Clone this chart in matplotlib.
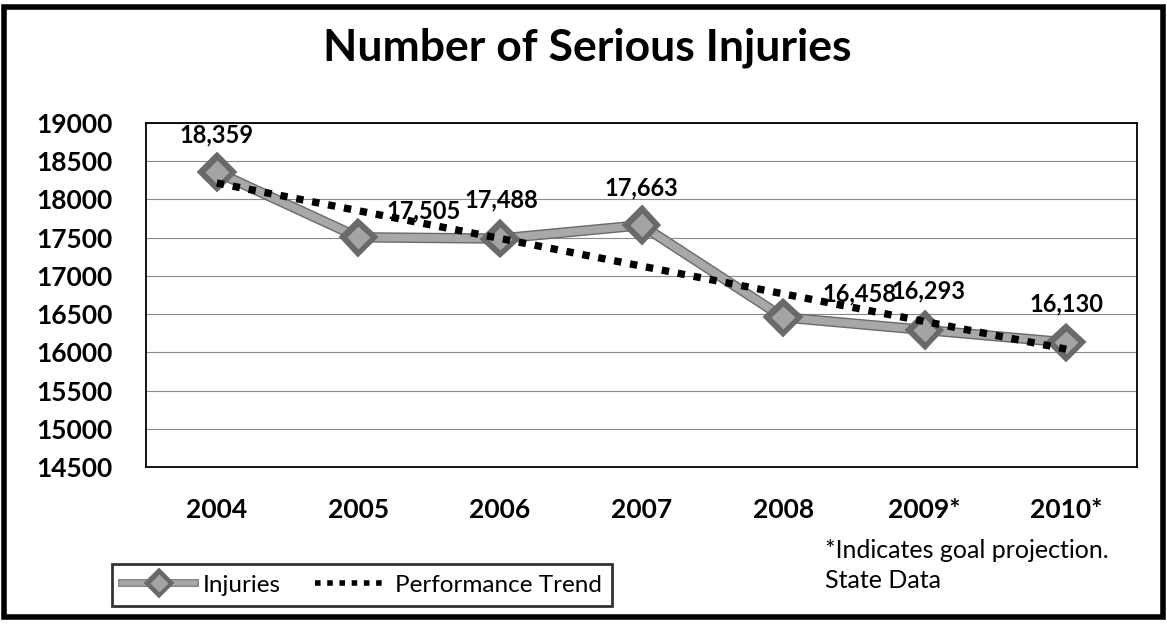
import numpy as np
import matplotlib
matplotlib.use("Agg")
import matplotlib.pyplot as plt
import matplotlib.patheffects as pe
from matplotlib.patches import Rectangle
from matplotlib.lines import Line2D

plt.rcParams['font.family'] = ['Lato', 'DejaVu Sans']

years = ["2004", "2005", "2006", "2007", "2008", "2009*", "2010*"]
injuries = [18359, 17505, 17488, 17663, 16458, 16293, 16130]
value_labels = ["18,359", "17,505", "17,488", "17,663", "16,458", "16,293", "16,130"]
y_ticks = [14500, 15000, 15500, 16000, 16500, 17000, 17500, 18000, 18500, 19000]

# label offsets (points) relative to each marker
label_offsets = [(0, 27), (47, 19), (1, 28), (0, 27), (55, 17), (3, 28), (0, 28)]

x = np.arange(len(years))
# linear performance trend (least-squares fit of the injuries series, like Excel trendline)
coef = np.polyfit(x, injuries, 1)
trend = np.polyval(coef, x)

fig = plt.figure(figsize=(11.67, 6.24), dpi=100)
ax = fig.add_axes([146/1167, 1-467/624, (1137-146)/1167, (467-123)/624])

ax.set_xlim(-0.5, len(years) - 0.5)
ax.set_ylim(y_ticks[0], y_ticks[-1])
ax.set_yticks(y_ticks)
ax.set_xticks(x)
ax.set_xticklabels(years)
ax.yaxis.grid(True, color='#8a8a8a', linewidth=0.8)
ax.set_axisbelow(True)
for s in ax.spines.values():
    s.set_color('black')
    s.set_linewidth(1.3)
ax.tick_params(axis='both', length=0, labelsize=19)
ax.tick_params(axis='y', pad=24)
ax.tick_params(axis='x', pad=22)
for lab in ax.get_xticklabels() + ax.get_yticklabels():
    lab.set_fontweight('bold')

inj_line, = ax.plot(x, injuries, color='#a8a8a8', linewidth=5.5, marker='D',
                    markersize=13, markerfacecolor='#a4a4a4', markeredgecolor='#666666',
                    markeredgewidth=1.0, zorder=3,
                    path_effects=[pe.Stroke(linewidth=7.5, foreground='#6a6a6a'), pe.Normal()])
tr_line, = ax.plot(x, trend, color='black', linewidth=5.3, linestyle=(0, (1, 1.2)),
                   dash_capstyle='butt', zorder=4)

for xi, yi, txt, off in zip(x, injuries, value_labels, label_offsets):
    ax.annotate(txt, (xi, yi), xytext=off, textcoords='offset points',
                ha='center', va='center', fontsize=17, fontweight='bold', zorder=5)

fig.text(587/1167, 1-48/624, "Number of Serious Injuries", ha='center', va='center',
         fontsize=32, fontweight='bold')

fig.text(825/1167, 1-551/624, "*Indicates goal projection.", ha='left', va='center', fontsize=18)
fig.text(825/1167, 1-580/624, "State Data", ha='left', va='center', fontsize=18)

h1 = Line2D([], [], color='#a8a8a8', linewidth=4, marker='D', markersize=10,
            markerfacecolor='#a4a4a4', markeredgecolor='#666666',
            path_effects=[pe.Stroke(linewidth=5.5, foreground='#6a6a6a'), pe.Normal()])
h2 = Line2D([], [], color='black', linewidth=4, linestyle=(0, (1, 1.2)), dash_capstyle='butt')
leg = fig.legend([h1, h2], ["Injuries", "Performance Trend"], ncol=2,
                 loc='center', bbox_to_anchor=(362/1167, 1-585/624),
                 frameon=True, fancybox=False, edgecolor='black', fontsize=17.5,
                 handlelength=3.0, columnspacing=1.4, handletextpad=0.3,
                 borderpad=0.42, borderaxespad=0)
leg.get_frame().set_linewidth(2)

fig.patches.append(Rectangle((4/1167, 1-617/624), 1159/1167, 610/624,
                             transform=fig.transFigure, fill=False,
                             edgecolor='black', linewidth=4))

fig.savefig("out.png", dpi=100)
